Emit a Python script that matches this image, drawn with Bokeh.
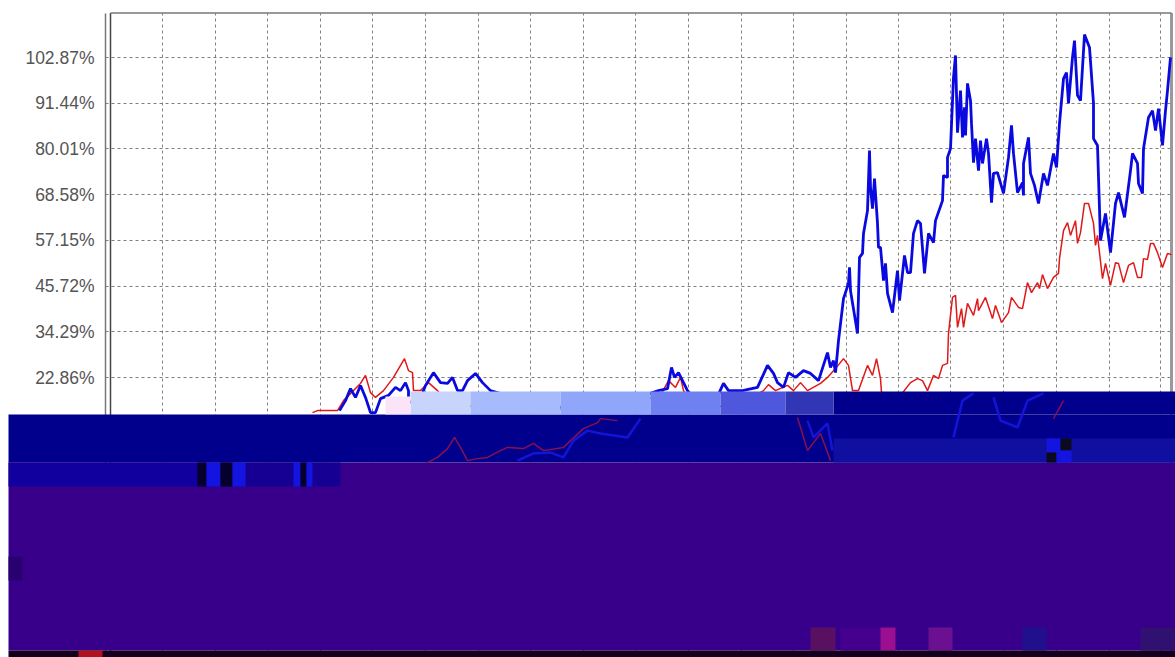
from bokeh.plotting import figure
from bokeh.models import BoxAnnotation, FixedTicker, LinearAxis, Range1d
from bokeh.embed import file_html
from bokeh.resources import INLINE

# tick values of the y axis (percent)
y_ticks = [102.87, 91.44, 80.01, 68.58, 57.15, 45.72, 34.29, 22.86]
y_labels = ["102.87%", "91.44%", "80.01%", "68.58%", "57.15%", "45.72%", "34.29%", "22.86%"]
x_ticks = [52, 105, 157, 210, 262, 315, 368, 420, 473, 525, 578, 631, 683, 736, 788, 840, 893, 946, 999, 1050]

blue_x = [229,235,240,245,250,255,260,265,270,278,285,290,295,298,298,306,311,315,323,330,337,342,347,352,357,365,372,380,430,490,548,557,561,564,568,573,577,590,605,613,618,632,647,657,663,667,673,678,685,693,700,708,717,720,723,725,728,733,738,739,740,747,749,752,753,757,759,760,762,764,767,768,770,773,775,777,782,787,789,794,797,800,803,807,810,814,818,823,825,832,833,837,837,840,843,845,847,850,852,854,855,857,860,861,863,865,868,870,872,876,878,881,883,887,893,898,901,903,907,912,913,913,918,920,924,928,933,937,943,946,949,953,956,958,962,964,967,970,974,979,983,983,987,990,995,1000,1005,1008,1014,1020,1022,1027,1028,1032,1033,1038,1042,1045,1048,1052,1055,1057,1060]
blue_y = [14.6,17.1,20.1,17.9,20.9,17.9,14.1,14.1,17.6,18.4,20.4,19.6,21.6,19.6,16.6,17.1,18.4,20.9,24.1,21.6,21.4,22.9,19.6,19.6,22.1,23.9,21.6,19.6,15.9,14.6,19.6,20.1,25.4,22.9,24.1,21.6,19.6,15.9,17.1,21.4,19.6,19.6,20.4,25.9,23.9,21.6,20.4,24.1,22.9,24.6,23.9,22.1,29.1,25.4,27.1,24.1,32.1,42.6,46.4,50.4,44.6,33.9,52.9,53.9,58.9,64.6,79.6,70.4,65.1,72.6,61.4,55.4,55.4,47.1,51.4,43.9,39.1,49.6,42.1,53.4,49.1,49.1,58.9,62.1,61.4,48.9,58.9,56.6,62.1,67.1,73.4,72.9,77.9,80.1,97.9,103.4,84.1,94.6,82.9,90.4,83.4,96.4,92.1,86.4,76.6,82.6,74.6,82.1,76.4,82.6,78.9,66.6,73.9,74.1,68.9,77.9,85.9,78.9,69.1,71.6,68.4,76.4,82.9,73.9,70.9,66.4,73.9,70.9,78.9,75.4,86.4,97.6,99.1,91.4,102.9,107.1,93.4,92.1,108.6,105.4,91.4,82.6,80.9,57.1,63.9,54.1,66.4,69.1,62.9,74.6,78.9,76.4,71.4,68.9,80.1,87.9,89.6,84.6,90.1,80.9,89.6,94.6,102.9]

red_x = [202,207,213,227,233,250,255,260,265,273,283,294,298,302,303,310,318,327,340,490,550,558,565,570,573,590,645,653,658,665,677,683,690,697,710,717,725,733,738,742,748,757,762,766,770,771,790,800,807,812,817,823,828,832,837,838,842,845,847,851,853,857,863,867,868,875,882,885,891,898,901,908,912,917,921,927,929,932,937,943,948,949,953,957,960,965,967,970,974,978,983,985,987,992,995,1000,1005,1008,1013,1018,1023,1027,1031,1033,1037,1040,1043,1047,1052,1057,1061]
red_y = [14.1,14.6,14.6,14.6,17.1,21.4,23.4,19.1,17.9,19.6,22.9,27.6,24.6,24.1,19.6,19.6,21.6,19.6,15.9,14.6,18.4,22.1,20.4,22.9,19.6,14.1,18.4,19.6,21.1,19.6,20.9,19.6,21.6,19.6,21.4,22.9,25.1,27.6,25.9,19.6,19.6,25.9,23.4,27.6,22.6,19.1,18.4,21.6,22.6,22.1,19.6,23.4,22.6,25.9,26.4,33.9,42.9,43.4,35.4,40.1,35.4,41.4,38.4,42.6,39.6,42.9,37.6,40.9,36.6,39.1,42.9,40.4,40.1,46.6,44.1,46.6,45.1,48.6,45.1,47.9,48.9,52.6,59.6,61.6,58.4,62.1,56.4,59.1,66.4,66.4,61.4,55.9,58.4,47.6,51.4,45.9,51.6,51.4,46.6,50.9,51.6,47.9,47.9,52.6,52.4,56.4,56.4,54.1,50.4,53.9,53.6]

# traces still legible inside the damaged band of the picture
damaged_red = [
    ([317,327,337,344,350,357,367,377,390,397,413,423,433,453,473,487,490,507],
     [1.6,2.9,5.1,7.9,5.4,2.1,2.6,2.9,4.6,5.4,5.1,6.4,4.6,5.4,10.1,11.6,12.6,12.1]),
    ([687,697,710,720], [12.9,4.6,8.9,2.1]),
    ([943,953], [12.6,17.1]),
]
damaged_blue = [
    ([407,423,440,453,463,477,490,517,530], [2.1,3.9,4.1,2.9,7.1,9.6,8.9,7.9,12.6]),
    ([697,703,717,722], [12.1,7.9,11.4,4.6]),
    ([843,852,863], [7.9,17.1,18.9]),
    ([883,890,907,917,933], [17.9,12.1,10.4,17.1,18.9]),
]

# flat colour blocks of the damaged lower part of the picture: left, top, right, bottom, colour
damage = [
    (8, 414, 1175, 462, "#00008c"), (833, 391, 1175, 414, "#00008c"),
    (410, 391, 470, 414, "#c8d4fb"), (385, 396, 410, 414, "#fbe4f8"),
    (470, 391, 560, 414, "#a6bafc"), (560, 391, 650, 414, "#8fa6fb"),
    (650, 391, 720, 414, "#6f80f0"), (720, 391, 785, 414, "#4f58dc"),
    (785, 391, 833, 414, "#3036b4"),
    (8, 462, 1175, 650, "#38008a"),
    (8, 462, 200, 486, "#12009e"), (200, 462, 340, 486, "#160094"),
    (197, 462, 206, 486, "#06002c"), (206, 462, 220, 486, "#1414e0"),
    (220, 462, 232, 486, "#06002c"), (232, 462, 245, 486, "#1414e0"),
    (293, 462, 300, 486, "#1414e0"), (300, 462, 306, 486, "#06002c"),
    (306, 462, 312, 486, "#1414e0"),
    (833, 438, 1175, 462, "#1010a0"), (1046, 438, 1060, 452, "#1414e0"),
    (1060, 438, 1071, 450, "#0a0a20"), (1046, 452, 1056, 462, "#0a0a20"),
    (1056, 450, 1071, 462, "#1414e0"),
    (8, 556, 22, 580, "#280070"), (810, 627, 835, 650, "#5a1060"),
    (840, 627, 880, 650, "#44008c"), (880, 627, 895, 650, "#9a1090"),
    (928, 627, 952, 650, "#6a1090"), (1022, 627, 1046, 650, "#20108c"),
    (1140, 627, 1175, 650, "#301070"),
    (8, 650, 1175, 657, "#14001e"), (78, 650, 102, 657, "#b01020"),
]

frame_left = -5
frame_right = 1061
frame_top = 114.0
frame_low = -47.0

p = figure(width=1175, height=657, output_backend="svg", toolbar_location=None,
           x_range=Range1d(-110, 1065), y_range=Range1d(-47.12, 117.13),
           x_axis_location=None, y_axis_location=None,
           min_border=0, background_fill_color="white", border_fill_color="white",
           outline_line_color=None)

yaxis = LinearAxis(fixed_location=frame_left, bounds=(frame_low, frame_top))
yaxis.ticker = FixedTicker(ticks=y_ticks)
yaxis.major_label_overrides = dict(zip(y_ticks, y_labels))
yaxis.major_label_text_font = "Liberation Sans"
yaxis.major_label_text_font_size = "17.5px"
yaxis.major_label_text_color = "#555555"
yaxis.major_tick_out = 0
yaxis.major_tick_in = 0
yaxis.minor_tick_out = 0
yaxis.minor_tick_in = 0
yaxis.major_label_standoff = 11
yaxis.axis_line_color = "#777777"
yaxis.axis_line_width = 1.5
p.add_layout(yaxis, "left")

p.xgrid[0].ticker = FixedTicker(ticks=x_ticks)
p.xgrid[0].cross_bounds = (frame_low, frame_top)
p.ygrid[0].ticker = FixedTicker(ticks=y_ticks)
p.ygrid[0].cross_bounds = (frame_left, frame_right)
for g in (p.xgrid[0], p.ygrid[0]):
    g.grid_line_color = "#808080"
    g.grid_line_dash = "3 3"
    g.grid_line_width = 1

p.segment(x0=[0], x1=[0], y0=[frame_low], y1=[frame_top], line_color="#444444", line_width=1.5)
p.segment(x0=[frame_right], x1=[frame_right], y0=[frame_low], y1=[frame_top], line_color="#999999", line_width=3)
p.segment(x0=[0], x1=[frame_right], y0=[frame_top], y1=[frame_top], line_color="#777777", line_width=1.5)

p.line(red_x, red_y, line_color="#e01818", line_width=1.5)
p.line(blue_x, blue_y, line_color="#0a0ae0", line_width=2.8)

for left, top, right, bottom, colour in damage:
    p.add_layout(BoxAnnotation(left=left, right=right, top=top, bottom=bottom,
                               left_units="canvas", right_units="canvas",
                               top_units="canvas", bottom_units="canvas",
                               fill_color=colour, fill_alpha=1, line_color=None, level="annotation"))

for xs, ys in damaged_red:
    p.line(xs, ys, line_color="#8a1050", line_width=1.5, level="overlay")
for xs, ys in damaged_blue:
    p.line(xs, ys, line_color="#1414d8", line_width=2.5, level="overlay")

open("out.html", "w").write(file_html(p, INLINE))
